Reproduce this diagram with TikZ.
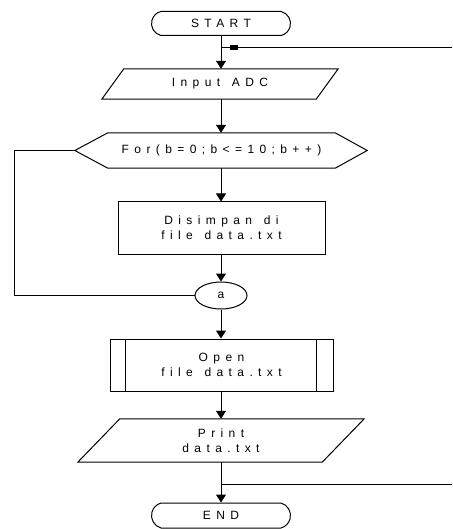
\documentclass[tikz,border=0pt]{standalone}
\usepackage{fontspec}
\setmainfont{Liberation Sans}
\usetikzlibrary{arrows.meta,shapes.misc,shapes.geometric}
\begin{document}
\begin{tikzpicture}[x=1pt,y=-1pt,
  every node/.style={font=\fontsize{12}{15}\selectfont\addfontfeature{LetterSpace=45}, align=center, inner sep=0pt},
  line/.style={line width=1pt, draw=black},
  arr/.style={line, -{Triangle[width=10pt,length=8pt]}},
  term/.style={rounded rectangle, rounded rectangle arc length=150, draw, line width=1pt, minimum width=139pt, minimum height=24pt},
  box/.style={rectangle, draw, line width=1pt},
  ghost/.style={rectangle, draw=none}
]
\useasboundingbox (0,0) rectangle (452,529);
\fill[white] (0,0) rectangle (452,529);

% nodes
\node[term] (start) at (221,23.5) {START};
\node[ghost, minimum width=214pt, minimum height=30pt] (inp) at (220,84) {Input\hspace{3pt} ADC};
\node[ghost, minimum width=227pt, minimum height=35pt] (for) at (221.5,150.5) {For(b=0;b<=10;b++)};
\node[box, minimum width=207pt, minimum height=52pt] (sim) at (221.5,228) {Disimpan\hspace{3pt} di\\file\hspace{3pt} data.txt};
\node[ellipse, draw, line width=1pt, minimum width=52pt, minimum height=27pt] (a) at (221,295.5) {a};
\node[box, minimum width=223pt, minimum height=52pt] (open) at (221.5,365) {Open\\file\hspace{3pt} data.txt};
\node[ghost, minimum width=244pt, minimum height=43pt] (prn) at (221,440.5) {Print\\data.txt};
\node[term, minimum height=25pt] (end) at (221,515.5) {END};

% shape outlines
\draw[line] ([xshift=11pt]inp.north west) -- ([xshift=11pt]inp.north east)
  -- ([xshift=-11pt]inp.south east) -- ([xshift=-11pt]inp.south west) -- cycle;
\draw[line] (for.north west) -- (for.north east) -- ([xshift=32pt]for.east)
  -- (for.south east) -- (for.south west) -- ([xshift=-33pt]for.west) -- cycle;
\draw[line] ([xshift=16pt]open.north west) -- ([xshift=16pt]open.south west);
\draw[line] ([xshift=-17pt]open.north east) -- ([xshift=-17pt]open.south east);
\draw[line] ([xshift=21pt]prn.north west) -- ([xshift=21pt]prn.north east)
  -- ([xshift=-21pt]prn.south east) -- ([xshift=-21pt]prn.south west) -- cycle;

% coordinates
\coordinate (J) at (221,48);
\coordinate (R1) at (452,48);
\coordinate (J2) at (221,484);
\coordinate (R2) at (452,484);
\coordinate (L1) at (14,150.5);
\coordinate (L2) at (14,295.5);
\coordinate (fw) at ([xshift=-33pt]for.west);

% connectors
\draw[arr] (start.south) -- (start.south |- inp.north);
\draw[line] (R1) -- (J);
\fill (230,45.5) rectangle (238,50.5);
\draw[arr] (inp.south -| start.south) -- (start.south |- for.north);
\draw[arr] (start.south |- for.south) -- (start.south |- sim.north);
\draw[arr] (start.south |- sim.south) -- (a.north);
\draw[line] (fw) -- (L1) -- (L2) -- (a.west);
\draw[arr] (a.south) -- (a.south |- open.north);
\draw[arr] (a.south |- open.south) -- (a.south |- prn.north);
\draw[arr] (a.south |- prn.south) -- (end.north);
\draw[line] (R2) -- (J2);
\end{tikzpicture}
\end{document}
